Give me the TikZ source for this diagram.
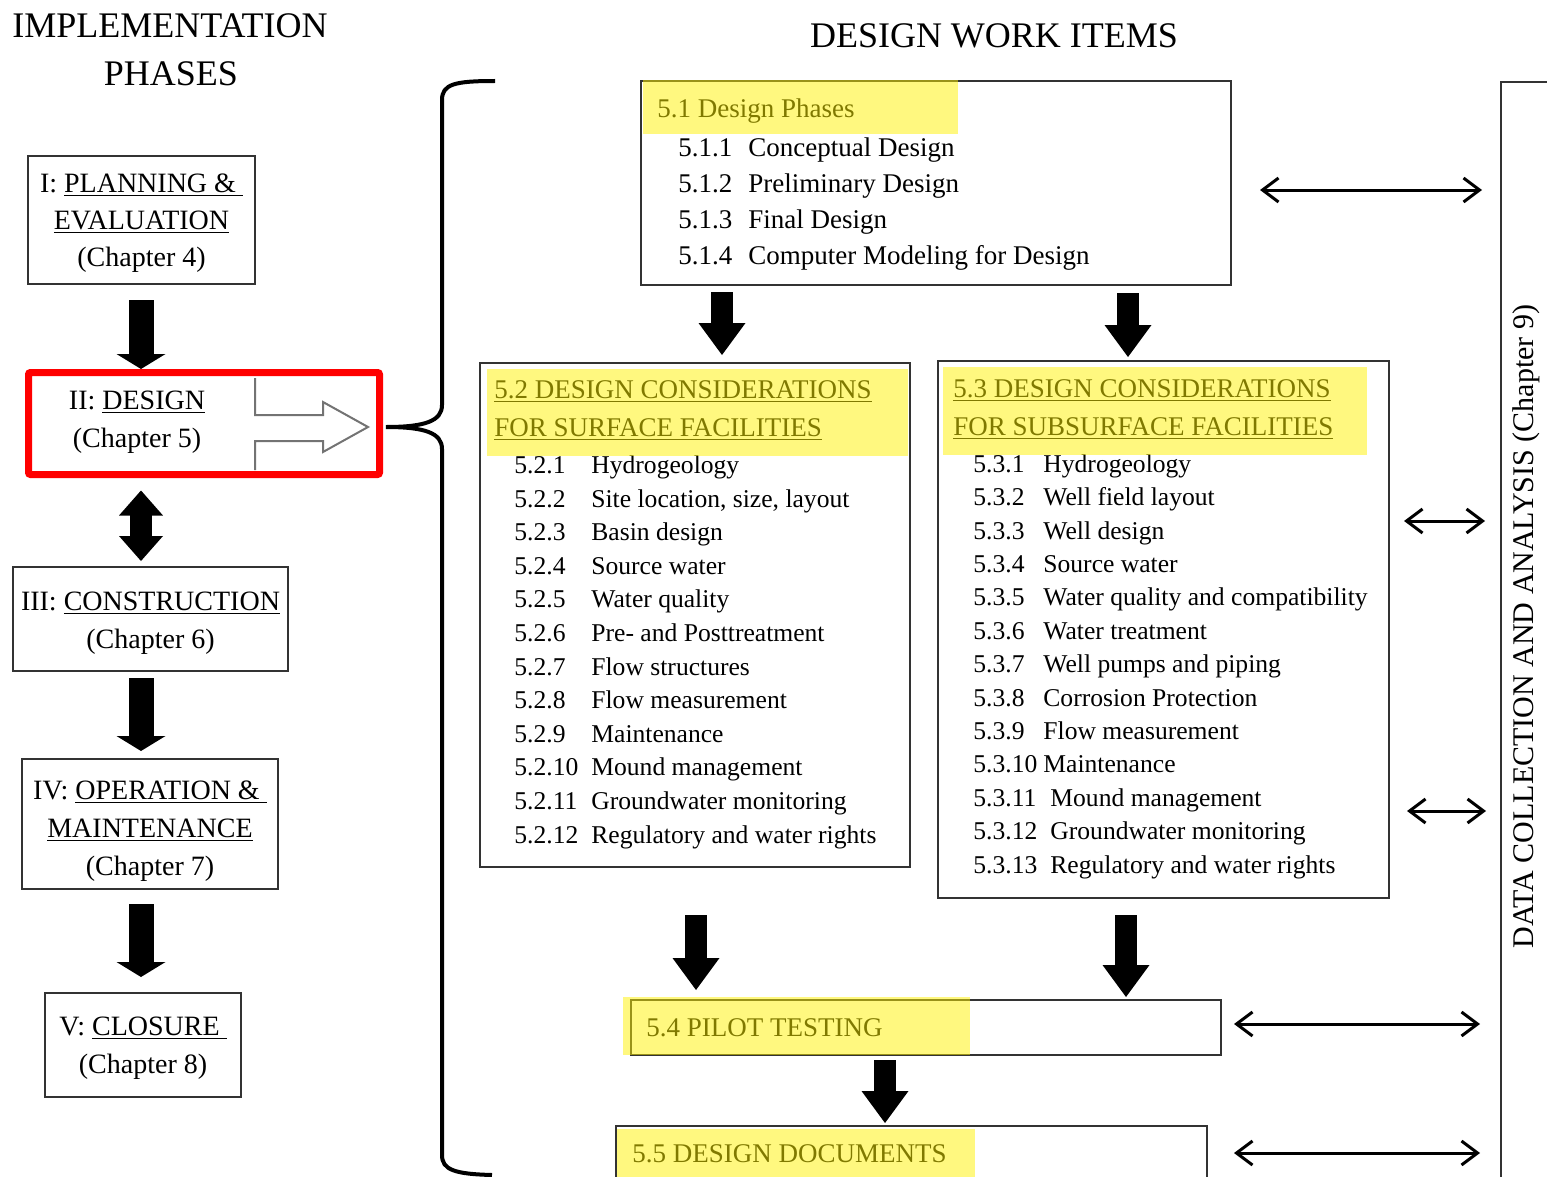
\documentclass[tikz,border=0pt]{standalone}
\usepackage{fontspec}
\setmainfont{Liberation Serif}
\usetikzlibrary{arrows.meta}

\newcommand{\fs}[2]{\fontsize{#1}{#2}\selectfont}

\begin{document}
\begin{tikzpicture}[x=0.5pt, y=-0.5pt,
      every node/.append style={inner sep=0pt},
      phase/.style={draw=black!80, line width=1pt, align=center, font=\fs{14}{19}},
      wbox/.style={draw=black!80, line width=1pt, anchor=north west},
      head/.style={anchor=base, font=\fs{18}{22}},
      ttl/.style={anchor=base west, font=\fs{13.5}{16}},
      lst/.style={anchor=north west},
      fatL/.style={line width=12.5pt, -{Triangle[width=24.5pt,length=7.5pt,line width=0pt]}},
      fatR/.style={line width=11pt, -{Triangle[width=23.5pt,length=16pt,line width=0pt]}},
      fatD/.style={line width=11pt, -{Triangle[width=22pt,length=12.5pt,line width=0pt]}},
      dbl/.style={line width=1.5pt, {Straight Barb[length=8pt,width=12pt]}-{Straight Barb[length=8pt,width=12pt]}},
      hl/.style={fill=yellow, fill opacity=0.5}]
    \useasboundingbox (0,0) rectangle (1547,1177);
    \clip (0,0) rectangle (1547,1177);

    % column headings
    \node (imphead) [head] at (170,38) {IMPLEMENTATION};
    \node (phhead) [head] at (171,86) {PHASES};
    \node (wihead) [head] at (994,48) {DESIGN WORK ITEMS};

    % implementation phases
    \node (plan) [phase, font=\fs{14}{18.5}, minimum width=113.5pt, minimum height=64pt] at (141.5,220)
      {\rule{0pt}{12.5pt}I: \underline{PLANNING \&\ }\\\underline{EVALUATION}\\(Chapter 4)};
    \node (design) [align=center, font=\fs{14}{19}] at (137,422) {II: \underline{DESIGN}\\(Chapter 5)};
    \node (red) [draw=red, line width=3.5pt, rounded corners=1pt, minimum width=175.5pt, minimum height=51pt] at (204,423.5) {};
    \node (con) [phase, minimum width=137.5pt, minimum height=52pt] at (150.5,619)
      {\rule{0pt}{13.5pt}III: \underline{CONSTRUCTION}\\(Chapter 6)};
    \node (op) [phase, minimum width=128pt, minimum height=65pt] at (150,824)
      {\rule{0pt}{16.5pt}IV: \underline{OPERATION \&\ }\\\underline{MAINTENANCE}\\(Chapter 7)};
    \node (clo) [phase, minimum width=98pt, minimum height=52pt] at (143,1045)
      {\rule{0pt}{12pt}V: \underline{CLOSURE\ }\\(Chapter 8)};

    % outline arrow out of the design box
    \draw[black!55, line width=1pt] (255,378) -- (255,415) -- (323,415) -- (323,402) -- (368,427)
      -- (323,452) -- (323,441) -- (255,441) -- (255,470);

    % brace
    \draw[line width=2pt] (495,81) .. controls (455,81) and (442,84) .. (442,100) -- (442,405)
      .. controls (442,421) and (425,427) .. (386,427) .. controls (425,427) and (442,433) .. (442,449)
      -- (442,1155) .. controls (442,1170) and (455,1174) .. (492,1175);

    % design work items
    \node (phases) [wbox, minimum width=295pt, minimum height=102pt] at (640,80) {};
    \node (t51) [ttl] at (657,118) {5.1 Design Phases};
    \node (phlist) [lst, font=\fs{13.5}{18}] at (678,130.8) {\begin{tabular}{@{}p{35pt}@{}l@{}}
      5.1.1 & Conceptual Design\\
      5.1.2 & Preliminary Design\\
      5.1.3 & Final Design\\
      5.1.4 & Computer Modeling for Design
    \end{tabular}};

    \node (surf) [wbox, minimum width=215pt, minimum height=252pt] at (479,362) {};
    \node (t52a) [ttl] at (494,398) {\underline{5.2 DESIGN CONSIDERATIONS}};
    \node (t52b) [ttl] at (494,436) {\underline{FOR SURFACE FACILITIES}};
    \node (surflist) [lst, font=\fs{12.8}{16.8}] at (514,449.5) {\begin{tabular}{@{}p{38.5pt}@{}l@{}}
      5.2.1 & Hydrogeology\\
      5.2.2 & Site location, size, layout\\
      5.2.3 & Basin design\\
      5.2.4 & Source water\\
      5.2.5 & Water quality\\
      5.2.6 & Pre- and Posttreatment\\
      5.2.7 & Flow structures\\
      5.2.8 & Flow measurement\\
      5.2.9 & Maintenance\\
      5.2.10 & Mound management\\
      5.2.11 & Groundwater monitoring\\
      5.2.12 & Regulatory and water rights
    \end{tabular}};

    \node (subs) [wbox, minimum width=225.5pt, minimum height=268.5pt] at (937,360) {};
    \node (t53a) [ttl] at (953,397) {\underline{5.3 DESIGN CONSIDERATIONS}};
    \node (t53b) [ttl] at (953,435) {\underline{FOR SUBSURFACE FACILITIES}};
    \node (subslist) [lst, font=\fs{12.8}{16.7}] at (973,448.6) {\begin{tabular}{@{}p{35pt}@{}l@{}}
      5.3.1 & Hydrogeology\\
      5.3.2 & Well field layout\\
      5.3.3 & Well design\\
      5.3.4 & Source water\\
      5.3.5 & Water quality and compatibility\\
      5.3.6 & Water treatment\\
      5.3.7 & Well pumps and piping\\
      5.3.8 & Corrosion Protection\\
      5.3.9 & Flow measurement\\
      5.3.10 & Maintenance\\
      5.3.11 & \hspace{3.5pt}Mound management\\
      5.3.12 & \hspace{3.5pt}Groundwater monitoring\\
      5.3.13 & \hspace{3.5pt}Regulatory and water rights
    \end{tabular}};

    \node (pilot) [wbox, minimum width=295pt, minimum height=27.5pt] at (630,999) {};
    \node (t54) [ttl] at (646,1036) {5.4 PILOT TESTING};
    \node (docs) [wbox, minimum width=295.5pt, minimum height=40pt] at (615,1125) {};
    \node (t55) [ttl] at (632,1162) {5.5 DESIGN DOCUMENTS};

    \node (data) [wbox, minimum width=50pt, minimum height=560pt] at (1500,81) {};
    \node (datatxt) [rotate=90, font=\fs{15}{17}] at (1526,626.5) {DATA COLLECTION AND ANALYSIS (Chapter 9)};

    % arrow columns
    \coordinate (lx) at (141,0);
    \coordinate (dmid) at (141,525);
    \coordinate (ax1) at (722,0);
    \coordinate (ax2) at (1128,0);
    \coordinate (ax3) at (696,0);
    \coordinate (ax4) at (1126,0);
    \coordinate (ax5) at (885,0);

    \draw[fatL, shorten <=7.5pt] (plan.south -| lx) -- (red.north -| lx);
    \draw[fatD, shorten >=6.25pt] (dmid) -- (red.south -| lx);
    \draw[fatD, shorten >=2.5pt] (dmid) -- (con.north -| lx);
    \draw[line width=11pt, shorten <=15.25pt, shorten >=11pt] (red.south -| lx) -- (con.north -| lx);
    \draw[fatL, shorten <=3pt, shorten >=3.5pt] (con.south -| lx) -- (op.north -| lx);
    \draw[fatL, shorten <=7pt, shorten >=7.5pt] (op.south -| lx) -- (clo.north -| lx);

    \draw[fatR, shorten <=3pt, shorten >=3.5pt] (phases.south -| ax1) -- (surf.north -| ax1);
    \draw[fatR, shorten <=3.5pt, shorten >=1.5pt] (phases.south -| ax2) -- (subs.north -| ax2);
    \draw[fatR, shorten <=23.5pt, shorten >=4.5pt] (surf.south -| ax3) -- (pilot.north -| ax3);
    \draw[fatR, shorten <=8pt, shorten >=1pt] (subs.south -| ax4) -- (pilot.north -| ax4);
    \draw[fatR, shorten <=2pt, shorten >=1pt] (pilot.south -| ax5) -- (docs.north -| ax5);

    % links to data collection
    \draw[dbl, shorten <=14pt, shorten >=9pt] (phases.east |- 0,190) -- (data.west |- 0,190);
    \draw[dbl, shorten <=7pt, shorten >=7.5pt] (subs.east |- 0,521) -- (data.west |- 0,521);
    \draw[dbl, shorten <=8.5pt, shorten >=7pt] (subs.east |- 0,811) -- (data.west |- 0,811);
    \draw[dbl, shorten <=6pt, shorten >=10pt] (pilot.east |- 0,1024) -- (data.west |- 0,1024);
    \draw[dbl, shorten <=13pt, shorten >=10pt] (docs.east |- 0,1153) -- (data.west |- 0,1153);

    % highlights
    \fill[hl] (643,80) rectangle (958,134);
    \fill[hl] (487,369) rectangle (908,456);
    \fill[hl] (943,367) rectangle (1367,455);
    \fill[hl] (623,997) rectangle (970,1055);
    \fill[hl] (617,1129) rectangle (975,1180);
\end{tikzpicture}
\end{document}
